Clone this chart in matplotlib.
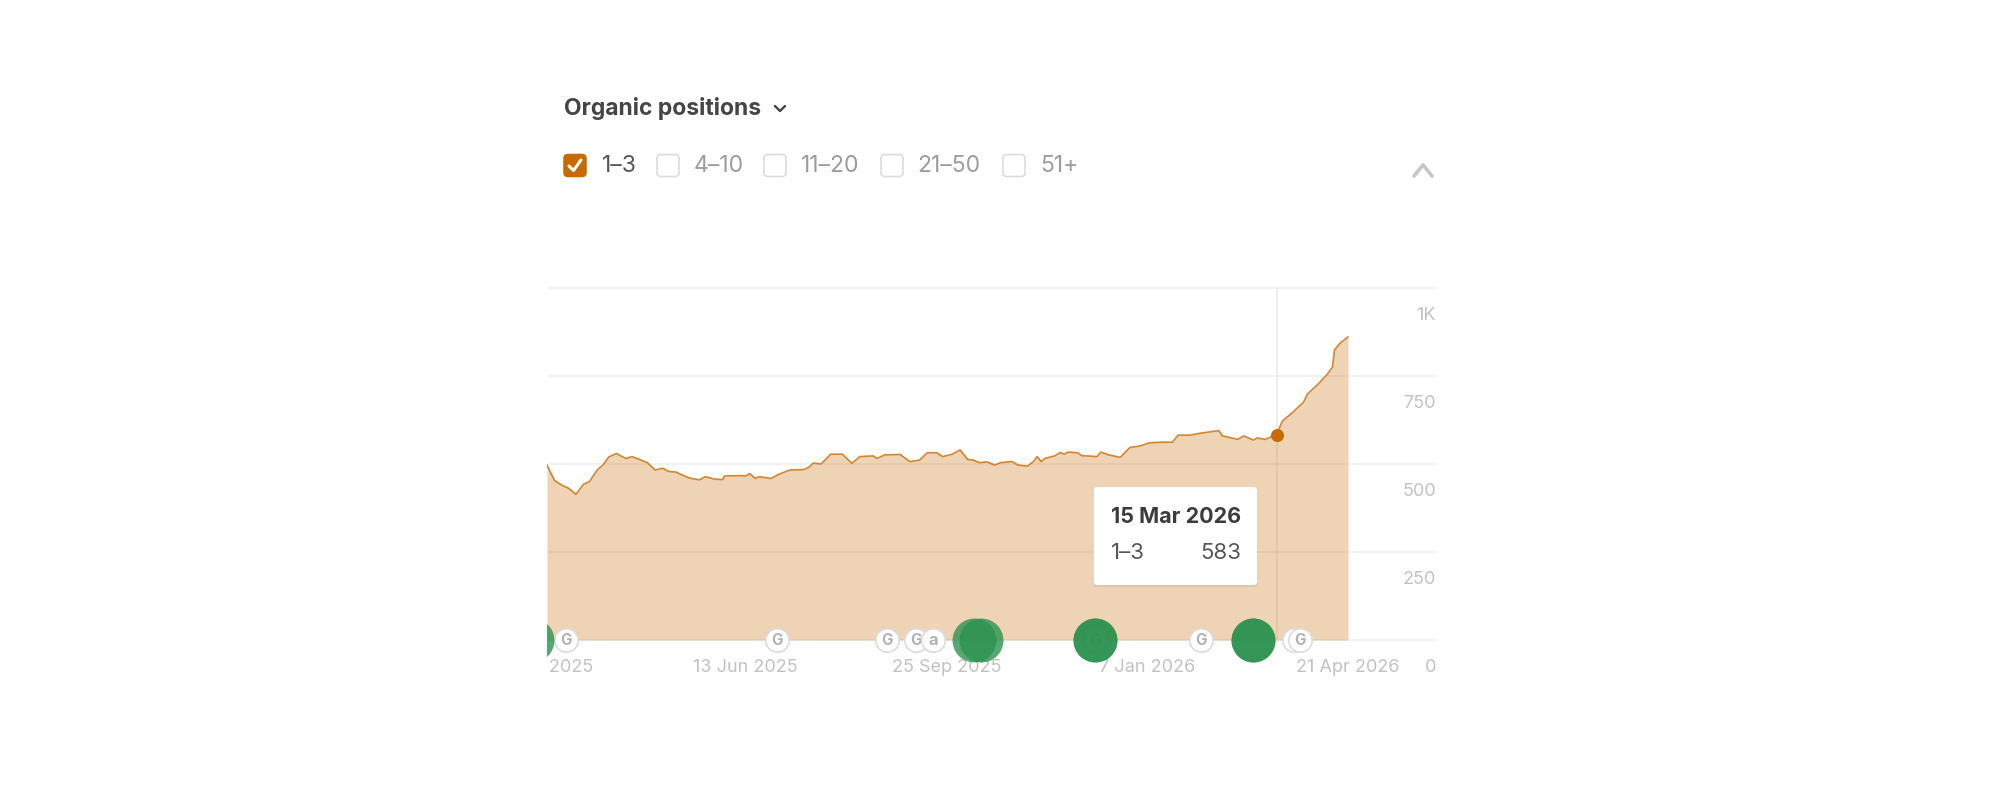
import matplotlib
matplotlib.use("Agg")
import matplotlib.pyplot as plt
from matplotlib.patches import FancyBboxPatch
from matplotlib.transforms import ScaledTranslation

plt.rcParams["font.family"] = ["Inter", "DejaVu Sans"]

# Series: days since 1 Mar 2025 and the count of keywords ranking in positions 1-3
days = [1, 3, 5, 9, 12, 16, 20, 23, 27, 30, 33, 37, 40, 42, 45, 49, 53, 57, 61, 64,
        68, 71, 75, 80, 83, 88, 92, 93, 101, 104, 106, 109, 111, 117, 122, 127, 134,
        137, 139, 143, 148, 154, 159, 162, 163, 170, 172, 176, 184, 189, 194, 198,
        203, 206, 211, 215, 219, 222, 225, 229, 233, 236, 242, 245, 250, 253, 255,
        257, 259, 264, 267, 269, 271, 276, 278, 286, 288, 292, 298, 300, 303, 308,
        313, 319, 325, 328, 334, 339, 349, 351, 359, 362, 367, 369, 373, 379, 382,
        387, 393, 395, 400, 405, 408, 409, 412, 416]
positions_1_3 = [497, 474, 453, 439, 432, 414, 443, 450, 483, 497, 520, 530, 521, 516,
                 521, 513, 504, 483, 488, 479, 477, 469, 460, 455, 464, 457, 456, 466,
                 467, 466, 473, 459, 464, 459, 473, 483, 484, 492, 503, 500, 528, 528,
                 502, 516, 521, 523, 516, 526, 527, 507, 511, 532, 532, 521, 528, 540,
                 513, 511, 504, 506, 497, 504, 507, 497, 494, 507, 521, 507, 516, 523,
                 533, 528, 534, 532, 524, 521, 534, 526, 519, 530, 547, 551, 560, 562,
                 562, 582, 582, 587, 595, 580, 570, 580, 568, 574, 570, 583, 622, 645,
                 676, 699, 724, 753, 776, 824, 844, 861]

tick_days = [0, 104, 208, 312, 416]
tick_dates = ["1 Mar 2025", "13 Jun 2025", "25 Sep 2025", "7 Jan 2026", "21 Apr 2026"]
y_ticks = [0, 250, 500, 750, 1000]
y_labels = ["0", "250", "500", "750", "1K"]

# Annotation markers along the baseline
google_days = [11, 120, 177, 192, 285, 340, 388, 391]
google_ring_only = [388]
amazon_days = [201]
green_days = [-7, 222, 226, 285, 285, 367, 367]

hover_day = 379
hover_value = 583
hover_date = "15 Mar 2026"

filters = ["1–3", "4–10", "11–20", "21–50", "51+"]

ORANGE = "#C96A00"
GREEN = "#2C9250"
GRID = "#EFEFEF"
TICK = "#C2C2C2"
DARK = "#3C3C3C"

fig = plt.figure(figsize=(20, 8), dpi=100, facecolor="white")
W, H = 2000, 800

# Plot area runs past the baseline so the event markers keep their lower half
left, right, top, bottom = 547, 1436, 286, 690
ax = fig.add_axes([left / W, 1 - bottom / H, (right - left) / W, (bottom - top) / H])
for s in ax.spines.values():
    s.set_visible(False)
ax.set_axisbelow(True)
ax.patch.set_alpha(0)

ax.set_yticks(y_ticks, y_labels)
ax.yaxis.tick_right()
ax.grid(axis="y", color=GRID, lw=1.1)
ax.tick_params(axis="y", length=0, pad=0, labelsize=13, labelcolor=TICK)
shift = ScaledTranslation(0, -27 / 100, fig.dpi_scale_trans)
for lab in ax.get_yticklabels():
    lab.set_ha("right")
    lab.set_va("center")
    lab.set_transform(lab.get_transform() + shift)
    lab.set_clip_on(False)

# The first date falls just left of the plot area, so it is placed as clipped
# text; the remaining dates are ordinary ticks.
ax.set_xticks(tick_days[1:], tick_dates[1:])
ax.tick_params(axis="x", length=0, pad=-16, labelsize=13, labelcolor=TICK)
for lab in ax.get_xticklabels():
    lab.set_va("center")

# Limits come after the ticks, which would otherwise widen them
ax.set_xlim(1, 461.6)
ax.set_ylim(-142, 1005.7)

date_y = ax.get_xaxis_transform() + ScaledTranslation(0, 23 / 100, fig.dpi_scale_trans)
ax.text(tick_days[0], 0, tick_dates[0], transform=date_y, fontsize=13, color=TICK,
        ha="center", va="center", clip_on=True, zorder=0.5)

# Hover crosshair sits under the area so it only tints it
ax.plot([hover_day, hover_day], [0, 1000], color="#EAEAEA", lw=1.2, zorder=1.5)

ax.fill_between(days, positions_1_3, 0, color=ORANGE, alpha=0.29, lw=0, zorder=2)
ax.plot(days, positions_1_3, color=ORANGE, lw=1.2, alpha=0.8, zorder=3,
        solid_joinstyle="round")
ax.scatter([hover_day], [hover_value], s=88, color=ORANGE, lw=0, zorder=6)

# Baseline event markers
ax.scatter(google_days, [0] * len(google_days), s=285, facecolor="white",
           edgecolor="#DCDCDC", lw=1.2, zorder=4)
for d in google_days:
    if d not in google_ring_only:
        ax.text(d, 0, "G", ha="center", va="center", fontsize=11, fontweight="bold",
                color="#B2B2B2", zorder=4.1, clip_on=True)
ax.scatter(amazon_days, [0], s=285, facecolor="white", edgecolor="#DCDCDC", lw=1.2, zorder=4.2)
ax.text(amazon_days[0], 0, "a", ha="center", va="center", fontsize=12, fontweight="bold",
        color="#B2B2B2", zorder=4.3)
ax.scatter(green_days, [0] * len(green_days), s=1000, color=GREEN, alpha=0.8, lw=0, zorder=5)

# Interface layer, laid out in pixels
ui = fig.add_axes([0, 0, 1, 1], zorder=10)
ui.set_xlim(0, W)
ui.set_ylim(H, 0)
ui.axis("off")

ui.text(564, 109, "Organic positions", fontsize=16.5, fontweight="bold", color="#454545",
        va="center", ha="left")
ui.plot([775, 780, 785], [106, 111, 106], color="#454545", lw=1.7, solid_capstyle="round")
ui.plot([1414, 1423, 1432], [176, 165, 176], color="#C6C6C6", lw=2.6, solid_capstyle="round")

box_x = [575, 668, 775, 892, 1014]
text_x = [602, 694, 801, 917, 1040]
for i, (bx, tx, name) in enumerate(zip(box_x, text_x, filters)):
    on = i == 0
    ui.add_patch(FancyBboxPatch((bx - 8, 157.5), 16, 16, boxstyle="round,pad=3,rounding_size=4",
                                fc=ORANGE if on else "white",
                                ec=ORANGE if on else "#DADADA", lw=1.1))
    ui.text(tx, 165.5, name, fontsize=16.5, va="center", ha="left",
            color="#555555" if on else "#9C9C9C")
ui.plot([569, 573.5, 581], [166, 170.5, 160], color="white", lw=2.2, solid_capstyle="round")

# Tooltip
ui.add_patch(FancyBboxPatch((1097, 490), 157, 94, boxstyle="round,pad=3,rounding_size=3",
                            fc="#B08C6C", ec="none", alpha=0.2))
ui.add_patch(FancyBboxPatch((1097, 490), 157, 92, boxstyle="round,pad=3,rounding_size=3",
                            fc="white", ec="none"))
ui.text(1111, 517, hover_date, fontsize=15.5, fontweight="bold", color=DARK, va="center", ha="left")
ui.text(1111, 553, filters[0], fontsize=16, color="#555555", va="center", ha="left")
ui.text(1241, 553, str(hover_value), fontsize=16, color="#555555", va="center", ha="right")

fig.savefig("out.png", dpi=100, facecolor="white")
